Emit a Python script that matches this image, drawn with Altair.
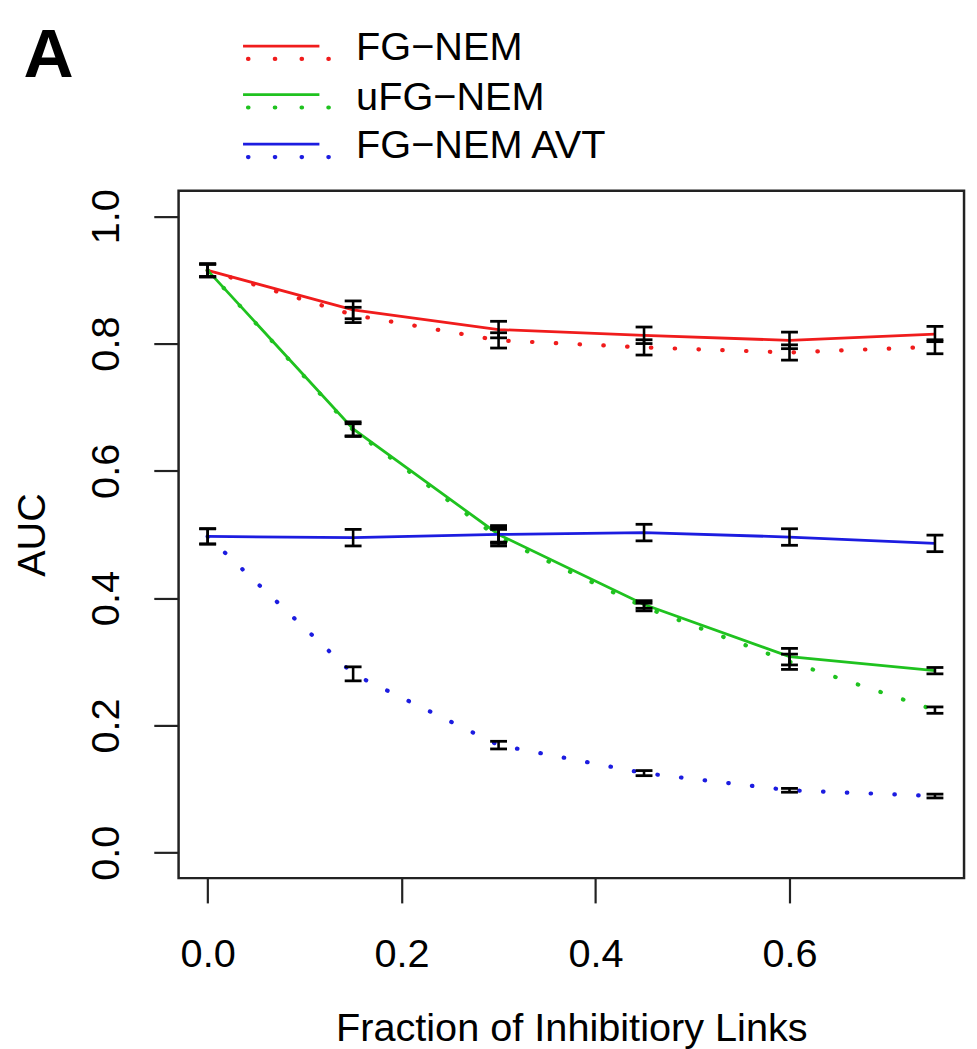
import altair as alt
import pandas as pd

# ---- data ----
x_vals = [0.0, 0.15, 0.30, 0.45, 0.60, 0.75]

fg_solid = [0.915, 0.853, 0.822, 0.813, 0.805, 0.815]
fg_solid_err = [0.010, 0.014, 0.013, 0.013, 0.013, 0.012]
fg_dotted = [0.915, 0.845, 0.805, 0.794, 0.786, 0.795]
fg_dotted_err = [0.010, 0.012, 0.012, 0.012, 0.012, 0.011]

ufg_solid = [0.915, 0.666, 0.500, 0.390, 0.308, 0.286]
ufg_solid_err = [0.010, 0.011, 0.014, 0.006, 0.013, 0.005]
ufg_dotted = [0.915, 0.664, 0.495, 0.386, 0.300, 0.224]
ufg_dotted_err = [0.010, 0.010, 0.013, 0.006, 0.012, 0.005]

avt_solid = [0.497, 0.495, 0.500, 0.503, 0.496, 0.486]
avt_solid_err = [0.012, 0.013, 0.012, 0.013, 0.013, 0.013]
avt_dotted = [0.497, 0.281, 0.169, 0.125, 0.098, 0.089]
avt_dotted_err = [0.012, 0.011, 0.006, 0.004, 0.003, 0.003]

series_names = ["FG\u2212NEM", "uFG\u2212NEM", "FG\u2212NEM AVT"]
series_colors = ["#f01c1c", "#1fc21f", "#1c1ce0"]

x_ticks = [0.0, 0.2, 0.4, 0.6]
y_ticks = [0.0, 0.2, 0.4, 0.6, 0.8, 1.0]

FONT = "Liberation Sans"

rows = []
for name, style, ys, es in [
    (series_names[0], "solid", fg_solid, fg_solid_err),
    (series_names[0], "dotted", fg_dotted, fg_dotted_err),
    (series_names[1], "solid", ufg_solid, ufg_solid_err),
    (series_names[1], "dotted", ufg_dotted, ufg_dotted_err),
    (series_names[2], "solid", avt_solid, avt_solid_err),
    (series_names[2], "dotted", avt_dotted, avt_dotted_err),
]:
    for xv, yv, ev in zip(x_vals, ys, es):
        rows.append({"series": name, "style": style, "x": xv, "y": yv,
                     "lo": yv - ev, "hi": yv + ev})
df = pd.DataFrame(rows)

xscale = alt.Scale(domain=[-0.03, 0.78], nice=False, zero=False)
yscale = alt.Scale(domain=[-0.04, 1.04], nice=False, zero=False)
cscale = alt.Scale(domain=series_names, range=series_colors)

xaxis = alt.Axis(values=x_ticks, format=".1f", title="Fraction of Inhibitiory Links",
                 labelBaseline="middle", labelPadding=52, labelFlush=False,
                 labelOverlap=False, titleY=152, titleBaseline="middle")
yaxis = alt.Axis(values=y_ticks, format=".1f", title="AUC",
                 labelAngle=270, labelAlign="center", labelBaseline="middle",
                 labelPadding=48, labelOverlap=False,
                 titleX=-147, titleY=346.5, titleAngle=270,
                 titleAlign="center", titleBaseline="middle")

X = alt.X("x:Q", scale=xscale, axis=xaxis)
Y = alt.Y("y:Q", scale=yscale, axis=yaxis)

solid = alt.Chart(df[df["style"] == "solid"]).mark_line(strokeWidth=2.8).encode(
    x=X, y=Y, color=alt.Color("series:N", scale=cscale, legend=None))
dotted = alt.Chart(df[df["style"] == "dotted"]).mark_line(
    strokeWidth=4.2, strokeDash=[0.5, 23.5], strokeCap="round").encode(
    x=X, y=Y, color=alt.Color("series:N", scale=cscale, legend=None))

err_rule = alt.Chart(df).mark_rule(color="black", strokeWidth=2.6).encode(
    x="x:Q", y="lo:Q", y2="hi:Q")
cap_lo = alt.Chart(df).mark_tick(color="black", size=17, thickness=2.8,
                                 orient="horizontal", opacity=1).encode(x="x:Q", y="lo:Q")
cap_hi = alt.Chart(df).mark_tick(color="black", size=17, thickness=2.8,
                                 orient="horizontal", opacity=1).encode(x="x:Q", y="hi:Q")

# ---- manual legend (solid + dotted sample per entry) ----
one = pd.DataFrame({"k": [0]})
legend_layers = []
for name, col, y_solid, y_dot, y_text in [
    (series_names[0], series_colors[0], -146, -133, -144),
    (series_names[1], series_colors[1], -97, -84, -94),
    (series_names[2], series_colors[2], -47, -34, -45),
]:
    legend_layers.append(alt.Chart(one).mark_rule(color=col, strokeWidth=2.8).encode(
        x=alt.value(65), x2=alt.value(142), y=alt.value(y_solid)))
    legend_layers.append(alt.Chart(one).mark_rule(
        color=col, strokeWidth=4.2, strokeDash=[0.5, 26.5], strokeCap="round").encode(
        x=alt.value(70), x2=alt.value(152), y=alt.value(y_dot)))
    legend_layers.append(alt.Chart(one).mark_text(
        text=name, align="left", baseline="middle", fontSize=40, font=FONT,
        color="black").encode(x=alt.value(179), y=alt.value(y_text)))

panel = alt.Chart(one).mark_text(
    text="A", align="center", baseline="alphabetic", fontSize=70,
    fontWeight="bold", font=FONT, color="black").encode(
    x=alt.value(-131), y=alt.value(-115))

chart = alt.layer(solid, dotted, err_rule, cap_lo, cap_hi, *legend_layers, panel).properties(
    width=792, height=693,
    autosize=alt.AutoSizeParams(type="none"),
    padding={"left": 172, "top": 180, "right": 5, "bottom": 176},
).configure_view(
    stroke="#222222", strokeWidth=2.5
).configure_axis(
    domain=False, grid=False, tickColor="#222222", tickWidth=2.2, tickSize=25,
    labelFontSize=40, labelFont=FONT, labelColor="black",
    titleFontSize=40, titleFont=FONT, titleFontWeight="normal", titleColor="black"
)

chart.save("out.html", embed_options={"renderer": "svg", "actions": False})
